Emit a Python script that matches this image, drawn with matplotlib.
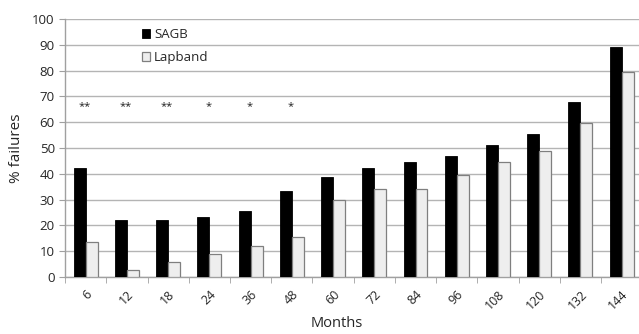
import matplotlib.pyplot as plt
import numpy as np

months = ["6", "12", "18", "24", "36", "48", "60", "72", "84", "96", "108", "120", "132", "144"]
sagb = [42.3, 22.2, 22.2, 23.3, 25.6, 33.2, 38.9, 42.4, 44.4, 46.9, 51.0, 55.5, 67.8, 89.0]
lapband = [13.4, 2.5, 5.7, 9.0, 12.0, 15.5, 29.8, 34.2, 34.2, 39.7, 44.4, 48.8, 59.6, 79.4]
stars = ["**", "**", "**", "*", "*", "*"]

plt.rcParams["font.family"] = ["Open Sans", "DejaVu Sans"]
txt = "#262626"

fig = plt.figure(figsize=(6.39, 3.34), dpi=100)
ax = fig.add_axes([0.102, 0.171, 0.903, 0.772])

x = np.arange(len(months))
w = 0.29
ax.bar(x - w / 2, sagb, w, color="black", edgecolor="black", linewidth=0.6, label="SAGB", zorder=3)
ax.bar(x + w / 2, lapband, w, color="#eeeeee", edgecolor="#7f7f7f", linewidth=0.9, label="Lapband", zorder=3)

# significance markers
for i, s in enumerate(stars):
    ax.text(i - 0.03, 66, s, ha="center", va="center", fontsize=8, color="#202020")

ax.set_xlim(-0.5, len(months) - 0.5)
ax.set_ylim(0, 100)
ax.set_yticks(range(0, 101, 10))
ax.yaxis.grid(True, color="#b4b4b4", linewidth=1.0, zorder=0)
ax.set_axisbelow(True)

ax.set_xticks(x)
ax.set_xticklabels(months, rotation=45, ha="right", va="top", rotation_mode="anchor",
                   color=txt, fontsize=9)
ax.set_xticks(np.arange(-0.5, len(months), 1), minor=True)
ax.tick_params(axis="x", which="major", length=0, pad=8)
ax.tick_params(axis="x", which="minor", length=4, color="#a0a0a0", direction="out")
ax.tick_params(axis="y", length=4, color="#a0a0a0", labelsize=9.5, labelcolor=txt)

for side in ["top", "right"]:
    ax.spines[side].set_visible(False)
for side in ["left", "bottom"]:
    ax.spines[side].set_color("#a0a0a0")
    ax.spines[side].set_linewidth(1.0)

ax.set_ylabel("% failures", fontsize=11, color=txt, labelpad=6)
ax.set_xlabel("Months", fontsize=10.5, color=txt)
ax.xaxis.set_label_coords(0.47, -0.15)

ax.legend(loc="upper left", bbox_to_anchor=(0.113, 1.01), frameon=False, fontsize=9.5,
          handlelength=0.6, handleheight=0.6, handletextpad=0.3, labelspacing=0.75,
          labelcolor=txt)

fig.savefig("out.png", dpi=100)
